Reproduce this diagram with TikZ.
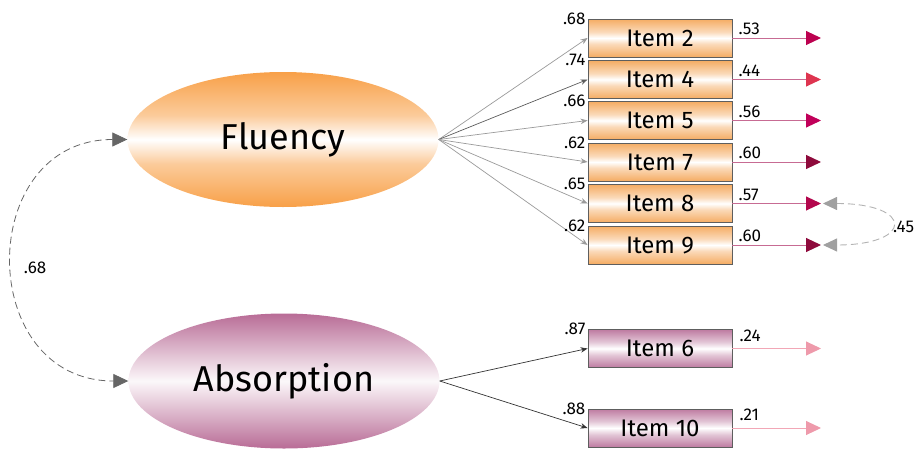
\documentclass[tikz,border=0pt]{standalone}
\usepackage{fontspec}
\setmainfont{Fira Sans}
\usetikzlibrary{arrows.meta,shapes.geometric}

% palette
\definecolor{fluO}{HTML}{F8A048}
\definecolor{itemO}{HTML}{F5AC63}
\definecolor{absP}{HTML}{B86C96}
\definecolor{absItemP}{HTML}{BE7BA1}
\definecolor{boxgray}{HTML}{5E5E5E}
\definecolor{loadgray}{HTML}{9A9A9A}
\definecolor{loaddark}{HTML}{333333}
\definecolor{errline}{HTML}{C76B93}
\definecolor{errlight}{HTML}{F2A7B6}
\definecolor{corrgray}{HTML}{666666}
\definecolor{corrlight}{HTML}{A0A0A0}
\definecolor{tipA}{HTML}{BC0250}
\definecolor{tipB}{HTML}{DE3550}
\definecolor{tipC}{HTML}{C1005A}
\definecolor{tipD}{HTML}{8E0A3C}
\definecolor{tipE}{HTML}{B3064C}
\definecolor{tipF}{HTML}{EE9AAB}

% glossy vertical shadings: solid edges, pale band across the middle
\pgfdeclareverticalshading{flushade}{100bp}{color(0bp)=(fluO); color(25bp)=(fluO); color(41bp)=(fluO!55!white); color(50bp)=(white); color(59bp)=(fluO!55!white); color(75bp)=(fluO); color(100bp)=(fluO)}
\pgfdeclareverticalshading{itemshade}{100bp}{color(0bp)=(itemO); color(25bp)=(itemO); color(42bp)=(itemO!45!white); color(50bp)=(white); color(58bp)=(itemO!45!white); color(75bp)=(itemO); color(100bp)=(itemO)}
\pgfdeclareverticalshading{absshade}{100bp}{color(0bp)=(absP); color(25bp)=(absP); color(38bp)=(absP!50!white); color(50bp)=(absP!5!white); color(62bp)=(absP!50!white); color(75bp)=(absP); color(100bp)=(absP)}
\pgfdeclareverticalshading{absitemshade}{100bp}{color(0bp)=(absItemP); color(25bp)=(absItemP); color(41bp)=(absItemP!45!white); color(50bp)=(white); color(59bp)=(absItemP!45!white); color(75bp)=(absItemP); color(100bp)=(absItemP)}

\begin{document}
\begin{tikzpicture}[x=1pt,y=-1pt,
  latent/.style={ellipse, minimum width=311pt, minimum height=135pt, inner sep=0pt,
    font=\fontsize{36}{40}\selectfont},
  itembox/.style={rectangle, draw=boxgray, line width=0.9pt, minimum width=144pt,
    minimum height=38pt, inner sep=0pt, font=\fontsize{24}{27}\selectfont},
  fluitem/.style={itembox, shading=itemshade},
  absitem/.style={itembox, shading=absitemshade},
  coef/.style={font=\fontsize{17}{19}\selectfont, inner sep=1pt},
  load/.style={draw=loadgray, line width=0.7pt, -{Stealth[length=7pt,width=5.5pt]}},
  errarrow/.style={draw=errline, line width=1pt, -{Triangle[length=15pt,width=14pt,color=#1]}},
  abserr/.style={draw=errlight, line width=1pt, -{Triangle[length=15pt,width=14pt,color=#1]}},
  corr/.style={draw=corrgray, line width=0.8pt, dash pattern=on 7pt off 4pt,
    {Triangle[length=15pt,width=14pt,color=corrgray]}-{Triangle[length=15pt,width=14pt,color=corrgray]}},
  errcorr/.style={draw=corrlight!80!white, line width=0.9pt, dash pattern=on 7pt off 4pt,
    {Triangle[length=14pt,width=13pt,color=corrlight]}-{Triangle[length=14pt,width=13pt,color=corrlight]}}
]
\useasboundingbox (0,0) rectangle (918,450);

% latent factors
\node[latent, shading=flushade] (flu) at (283,139.5) {Fluency};
\node[latent, shading=absshade] (abs) at (284,381) {Absorption};

% indicators
\node[fluitem] (i2)  at (660,38)    {Item 2};
\node[fluitem] (i4)  at (660,79.5)  {Item 4};
\node[fluitem] (i5)  at (660,120.5) {Item 5};
\node[fluitem] (i7)  at (660,162)   {Item 7};
\node[fluitem] (i8)  at (660,203.5) {Item 8};
\node[fluitem] (i9)  at (660,245)   {Item 9};
\node[absitem] (i6)  at (660,348.5) {Item 6};
\node[absitem] (i10) at (660,428)   {Item 10};

% factor loadings
\draw[load] (flu.east) -- (i2.west);
\draw[load, draw=loaddark!80!white] (flu.east) -- (i4.west);
\draw[load] (flu.east) -- (i5.west);
\draw[load] (flu.east) -- (i7.west);
\draw[load] (flu.east) -- (i8.west);
\draw[load] (flu.east) -- (i9.west);
\draw[load, draw=loaddark] (abs.east) -- (i6.west);
\draw[load, draw=loaddark] (abs.east) -- (i10.west);

\node[coef, anchor=east] at ([xshift=-1pt]i2.north west)  {.68};
\node[coef, anchor=east] at ([xshift=-1pt]i4.north west)  {.74};
\node[coef, anchor=east] at ([xshift=-1pt]i5.north west)  {.66};
\node[coef, anchor=east] at ([xshift=-1pt]i7.north west)  {.62};
\node[coef, anchor=east] at ([xshift=-1pt]i8.north west)  {.65};
\node[coef, anchor=east] at ([xshift=-1pt]i9.north west)  {.62};
\node[coef, anchor=east] at ([xshift=-1pt]i6.north west)  {.87};
\node[coef, anchor=east] at ([xshift=-1pt]i10.north west) {.88};

% error terms
\coordinate (e2)  at (821,38);
\coordinate (e4)  at (821,79.5);
\coordinate (e5)  at (821,120.5);
\coordinate (e7)  at (821,162);
\coordinate (e8)  at (821,203.5);
\coordinate (e9)  at (821,245);
\coordinate (e6)  at (821,348.5);
\coordinate (e10) at (821,428);

\draw[errarrow=tipA] (i2.east) -- (e2);
\draw[errarrow=tipB] (i4.east) -- (e4);
\draw[errarrow=tipC] (i5.east) -- (e5);
\draw[errarrow=tipD] (i7.east) -- (e7);
\draw[errarrow=tipE] (i8.east) -- (e8);
\draw[errarrow=tipD] (i9.east) -- (e9);
\draw[abserr=tipF] (i6.east) -- (e6);
\draw[abserr=tipF] (i10.east) -- (e10);

\node[coef, anchor=west] at ([xshift=5pt,yshift=9pt]i2.east)   {.53};
\node[coef, anchor=west] at ([xshift=5pt,yshift=9pt]i4.east)   {.44};
\node[coef, anchor=west] at ([xshift=5pt,yshift=9pt]i5.east)   {.56};
\node[coef, anchor=west] at ([xshift=5pt,yshift=9pt]i7.east)   {.60};
\node[coef, anchor=west] at ([xshift=5pt,yshift=9pt]i8.east)   {.57};
\node[coef, anchor=west] at ([xshift=5pt,yshift=9pt]i9.east)   {.60};
\node[coef, anchor=west] at ([xshift=6pt,yshift=13pt]i6.east)  {.24};
\node[coef, anchor=west] at ([xshift=6pt,yshift=13pt]i10.east) {.21};

% correlated errors of items 8 and 9
\coordinate (c8) at (823,203.5);
\coordinate (c9) at (823,245);
\draw[errcorr] (c8) .. controls (914,203.5) and (914,245) .. (c9);
\node[coef, anchor=west] (r89) at (892,227) {.45};

% factor correlation
\draw[corr] (flu.west) .. controls (-25,139.5) and (-25,381) .. (abs.west);
\node[coef] (r12) at (35,268) {.68};
\end{tikzpicture}
\end{document}
